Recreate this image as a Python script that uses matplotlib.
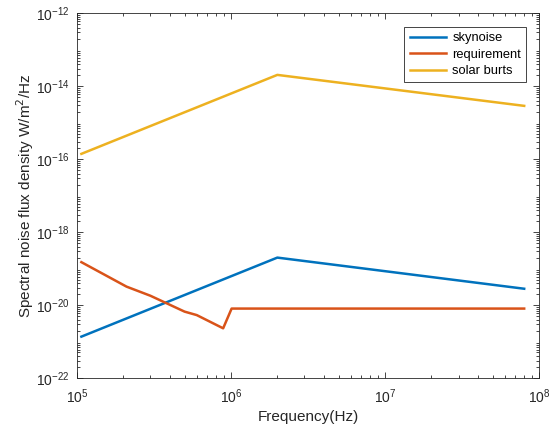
import numpy as np
import matplotlib
matplotlib.use('Agg')
import matplotlib.pyplot as plt

# frequency points (Hz)
f_sky = [1.07e5, 2.0e6, 8.0e7]
skynoise = [1.36e-21, 2.0e-19, 2.8e-20]

f_req = [1.07e5, 2.1e5, 3.0e5, 5.0e5, 6.0e5, 8.9e5, 1.01e6, 8.0e7]
requirement = [1.5e-19, 3.2e-20, 1.8e-20, 6.6e-21, 5.3e-21, 2.3e-21, 8.0e-21, 8.0e-21]

f_sol = [1.07e5, 2.0e6, 8.0e7]
solar = [1.4e-16, 2.05e-14, 2.9e-15]

labels = ['skynoise', 'requirement', 'solar burts']
colors = [(0, 0.447, 0.741), (0.85, 0.325, 0.098), (0.929, 0.694, 0.125)]

plt.rcParams['font.family'] = ['Liberation Sans', 'DejaVu Sans']
grey = (0.15, 0.15, 0.15)

fig = plt.figure(figsize=(5.49, 4.30), dpi=100)
ax = fig.add_axes([0.140, 0.121, 0.842, 0.848])

ax.loglog(f_sky, skynoise, color=colors[0], lw=1.8, label=labels[0])
ax.loglog(f_req, requirement, color=colors[1], lw=1.8, label=labels[1])
ax.loglog(f_sol, solar, color=colors[2], lw=1.8, label=labels[2])

ax.set_xlim(1e5, 1e8)
ax.set_ylim(1e-22, 1e-12)
ax.set_yticks([1e-22, 1e-20, 1e-18, 1e-16, 1e-14, 1e-12])
ax.yaxis.set_minor_locator(matplotlib.ticker.LogLocator(base=10, subs=np.arange(2, 10), numticks=20))

ax.tick_params(which='both', direction='in', top=True, right=True, colors=grey, labelsize=10, width=0.6)
ax.tick_params(which='major', length=4)
ax.tick_params(which='minor', length=2)
ax.tick_params(axis='x', which='major', pad=6.5)
ax.tick_params(axis='y', which='major', pad=5)
for s in ax.spines.values():
    s.set_color(grey)
    s.set_linewidth(0.6)

ax.set_xlabel('Frequency(Hz)', fontsize=11, color=grey, labelpad=3)
ax.set_ylabel('Spectral noise flux density W/m$^2$/Hz', fontsize=11, color=grey, labelpad=0)

leg = ax.legend(loc='upper right', bbox_to_anchor=(0.972, 0.963), borderaxespad=0, fontsize=9.3,
                fancybox=False, edgecolor=grey, framealpha=1, handlelength=2.8,
                handletextpad=0.5, borderpad=0.4, labelspacing=0.35)
leg.get_frame().set_linewidth(0.6)

fig.savefig('out.png', dpi=100)
